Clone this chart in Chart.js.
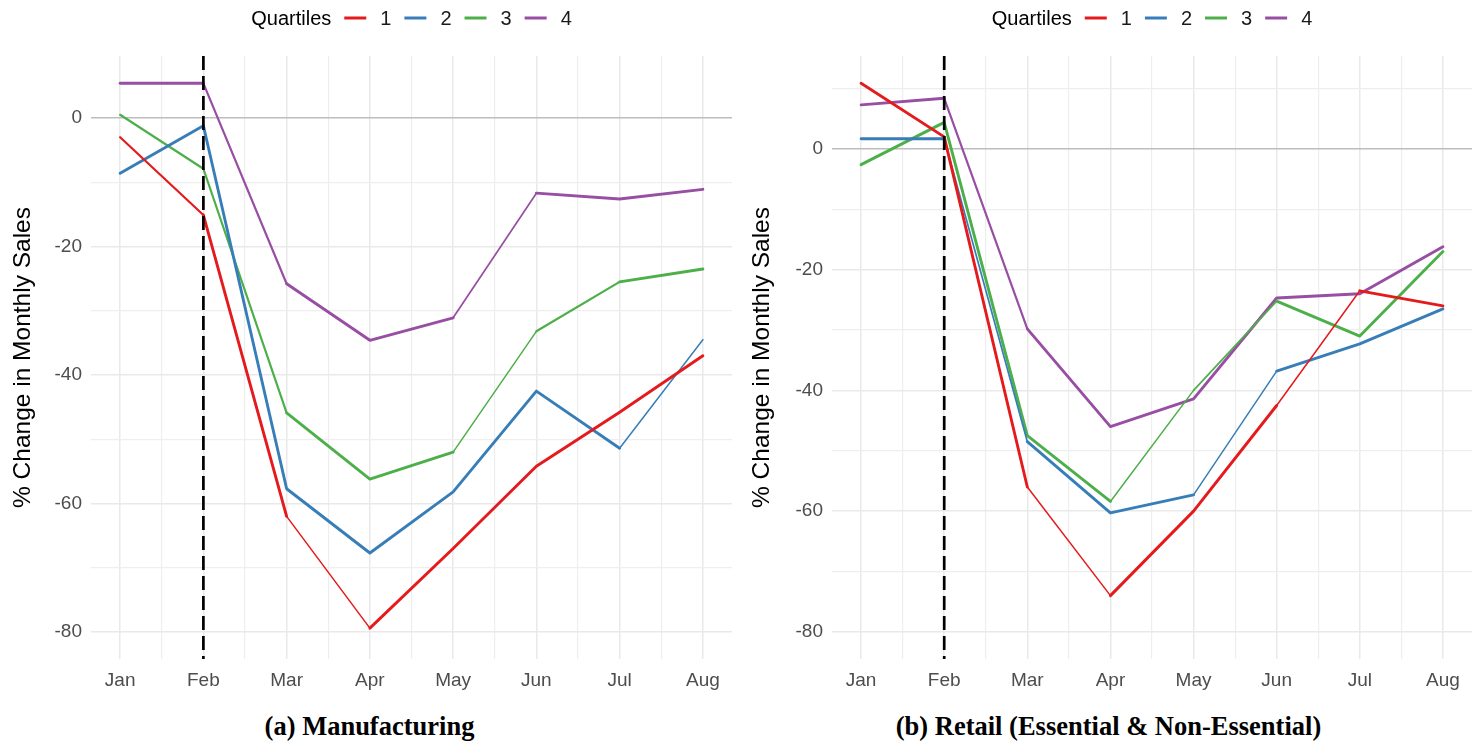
<!DOCTYPE html>
<html>
<head>
<meta charset="utf-8">
<script src="https://cdn.jsdelivr.net/npm/chart.js@4.4.1/dist/chart.umd.min.js"></script>
<style>
  html, body { margin: 0; padding: 0; background: #fff; }
  body { width: 1478px; height: 742px; position: relative; overflow: hidden; }
  .panel { position: absolute; top: 0; width: 739px; height: 700px; }
  .caption {
    position: absolute; top: 713px; width: 739px; text-align: center;
    font: bold 26.5px "Liberation Serif", "Times New Roman", serif;
    line-height: 26.5px; color: #000;
  }
</style>
</head>
<body>
<div class="panel" style="left:0"><canvas id="mfg" width="739" height="700"></canvas></div>
<div class="panel" style="left:739px"><canvas id="ret" width="739" height="700"></canvas></div>
<div class="caption" style="left:0">(a) Manufacturing</div>
<div class="caption" style="left:739px">(b) Retail (Essential &amp; Non-Essential)</div>

<script>
// Months on the x axis and quartile groups
const months = ['Jan', 'Feb', 'Mar', 'Apr', 'May', 'Jun', 'Jul', 'Aug'];
const quartiles = ['1', '2', '3', '4'];
const quartileColors = ['#E41A1C', '#377EB8', '#4DAF4A', '#984EA3'];

// % change in monthly sales, manufacturing
const mfgQ1 = [-3.0, -15.1, -62.0, -79.4, -67.0, -54.2, -45.8, -37.0];
const mfgQ2 = [-8.6, -1.2, -57.7, -67.7, -58.2, -42.5, -51.4, -34.5];
const mfgQ3 = [0.5, -7.9, -45.9, -56.2, -52.0, -33.2, -25.5, -23.5];
const mfgQ4 = [5.4, 5.4, -25.8, -34.6, -31.1, -11.7, -12.6, -11.1];

// % change in monthly sales, retail (essential & non-essential)
const retQ1 = [10.9, 2.0, -56.0, -74.0, -60.0, -42.5, -23.5, -26.0];
const retQ2 = [1.7, 1.7, -48.5, -60.3, -57.3, -36.8, -32.3, -26.5];
const retQ3 = [-2.6, 4.4, -47.5, -58.4, -40.0, -25.2, -31.0, -17.0];
const retQ4 = [7.3, 8.4, -29.8, -46.0, -41.4, -24.7, -24.0, -16.2];

// Line thickness of each month-to-month segment
const mfgWidths = [
  [2.2, 2.9, 1.5, 2.9, 2.9, 2.9, 2.9],
  [2.9, 2.9, 2.9, 2.9, 2.9, 2.9, 1.5],
  [2.2, 2.2, 2.9, 2.9, 1.5, 2.2, 2.9],
  [2.9, 2.2, 2.9, 2.9, 1.7, 2.9, 2.9]
];
const retWidths = [
  [2.9, 2.9, 1.5, 2.9, 2.9, 1.5, 2.9],
  [2.9, 1.7, 2.9, 2.9, 1.5, 2.9, 2.9],
  [2.9, 2.9, 2.9, 1.5, 1.7, 2.9, 2.9],
  [2.9, 2.2, 2.9, 2.9, 2.9, 2.9, 2.9]
];

const legendTitle = 'Quartiles';
const yTitle = '% Change in Monthly Sales';
const eventMonth = 1; // Feb, marked by the dashed line

const SANS = '"Liberation Sans", Arial, sans-serif';

// Inline "Quartiles — 1 — 2 — 3 — 4" legend above the plot
const inlineLegend = {
  id: 'inlineLegend',
  afterDraw(chart) {
    const ctx = chart.ctx;
    const area = chart.chartArea;
    ctx.save();
    ctx.font = '20px ' + SANS;
    ctx.textBaseline = 'middle';
    const keyW = 22, gapTitle = 13, gapKey = 14, gapItem = 13;
    const titleW = ctx.measureText(legendTitle).width;
    const labelW = quartiles.map(q => ctx.measureText(q).width);
    let total = titleW + gapTitle;
    labelW.forEach((w, i) => { total += keyW + gapKey + w + (i < labelW.length - 1 ? gapItem : 0); });
    let x = (area.left + area.right) / 2 - total / 2;
    const y = 19;
    ctx.fillStyle = '#000';
    ctx.textAlign = 'left';
    ctx.fillText(legendTitle, x, y);
    x += titleW + gapTitle;
    quartiles.forEach((q, i) => {
      ctx.strokeStyle = quartileColors[i];
      ctx.lineWidth = 3;
      ctx.beginPath();
      ctx.moveTo(x, y - 1);
      ctx.lineTo(x + keyW, y - 1);
      ctx.stroke();
      x += keyW + gapKey;
      ctx.fillStyle = '#1a1a1a';
      ctx.fillText(q, x, y);
      x += labelW[i] + gapItem;
    });
    ctx.restore();
  }
};

// Dashed vertical marker at February
const eventLine = {
  id: 'eventLine',
  afterDatasetsDraw(chart) {
    const ctx = chart.ctx;
    const area = chart.chartArea;
    const x = chart.scales.x.getPixelForValue(eventMonth);
    ctx.save();
    ctx.strokeStyle = '#000';
    ctx.lineWidth = 2.7;
    ctx.setLineDash([14, 6]);
    ctx.beginPath();
    ctx.moveTo(x, area.top);
    ctx.lineTo(x, area.bottom);
    ctx.stroke();
    ctx.restore();
  }
};

function makePanel(id, series, widths, yMin, yMax, axisWidth, rightPad) {
  const datasets = series.map((vals, i) => ({
    label: quartiles[i],
    data: vals.map((v, k) => ({ x: k, y: v })),
    borderColor: quartileColors[i],
    backgroundColor: quartileColors[i],
    borderWidth: 2.9,
    pointRadius: 0,
    tension: 0,
    fill: false,
    segment: { borderWidth: c => widths[i][c.p0DataIndex] }
  }));

  const yTicks = [];
  for (let v = -80; v <= yMax; v += 10) if (v >= yMin) yTicks.push(v);
  const xTicks = [];
  for (let k = 0; k <= 14; k++) xTicks.push(k / 2);

  return new Chart(document.getElementById(id), {
    type: 'line',
    data: { datasets },
    options: {
      responsive: false,
      animation: false,
      devicePixelRatio: 1,
      layout: { padding: { top: 56, right: rightPad, left: 0, bottom: 0 } },
      plugins: { legend: { display: false }, tooltip: { enabled: false } },
      elements: { line: { borderJoinStyle: 'round', borderCapStyle: 'round' } },
      scales: {
        x: {
          type: 'linear',
          min: -0.35,
          max: 7.35,
          afterBuildTicks: s => { s.ticks = xTicks.map(v => ({ value: v })); },
          afterFit: s => { s.height = 41; },
          border: { display: false },
          grid: {
            drawTicks: false,
            color: c => Number.isInteger(c.tick.value) ? '#e9e9e9' : '#eeeeee',
            lineWidth: c => Number.isInteger(c.tick.value) ? 1.5 : 1.2
          },
          ticks: {
            autoSkip: false,
            maxRotation: 0,
            padding: 10,
            color: '#4d4d4d',
            font: { family: SANS, size: 19 },
            callback: v => Number.isInteger(v) ? months[v] : ''
          }
        },
        y: {
          type: 'linear',
          min: yMin,
          max: yMax,
          afterBuildTicks: s => { s.ticks = yTicks.map(v => ({ value: v })); },
          afterFit: s => { s.width = axisWidth; },
          border: { display: false },
          grid: {
            drawTicks: false,
            color: c => c.tick.value === 0 ? '#bdbdbd' : (c.tick.value % 20 === 0 ? '#e9e9e9' : '#eeeeee'),
            lineWidth: c => c.tick.value === 0 ? 1.6 : (c.tick.value % 20 === 0 ? 1.5 : 1.2)
          },
          ticks: {
            padding: 9,
            color: '#4d4d4d',
            font: { family: SANS, size: 19 },
            callback: v => v % 20 === 0 ? String(v) : ''
          },
          title: {
            display: true,
            text: yTitle,
            color: '#000',
            font: { family: SANS, size: 24.5 },
            padding: { top: 9, bottom: 0 }
          }
        }
      }
    },
    plugins: [inlineLegend, eventLine]
  });
}

makePanel('mfg', [mfgQ1, mfgQ2, mfgQ3, mfgQ4], mfgWidths, -84.2, 9.65, 91, 7);
makePanel('ret', [retQ1, retQ2, retQ3, retQ4], retWidths, -84.5, 15.4, 93, 6);
</script>
</body>
</html>
